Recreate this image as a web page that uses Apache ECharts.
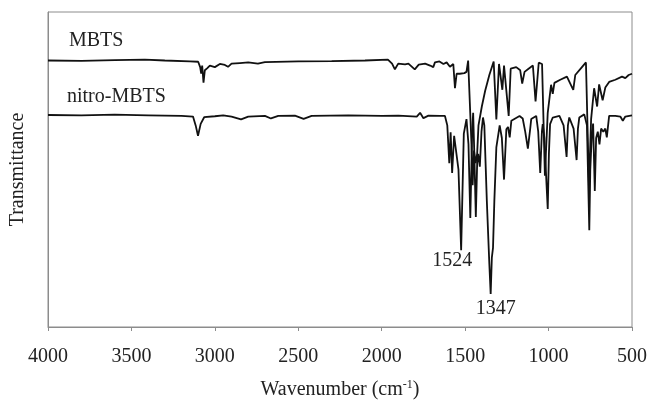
<!DOCTYPE html>
<html>
<head>
<meta charset="utf-8">
<script src="https://cdn.jsdelivr.net/npm/echarts@6/dist/echarts.min.js"></script>
<style>
  html, body { margin: 0; padding: 0; background: #fff; }
  #chart { width: 650px; height: 405px; }
</style>
</head>
<body>
<div id="chart"></div>
<script>
// wavenumber (cm-1) / transmittance (arbitrary, offset) pairs
var mbtsWn = [4000, 3800, 3600, 3420, 3300, 3150, 3100, 3088, 3082, 3076, 3068, 3060, 3045, 3030, 3000, 2970, 2940, 2921, 2900, 2850, 2800, 2742, 2700, 2500, 2300, 2100, 1963, 1938, 1921, 1901, 1860, 1840, 1802, 1778, 1740, 1710, 1691, 1681, 1654, 1630, 1611, 1591, 1571, 1561, 1551, 1532, 1505, 1492, 1482, 1474, 1462, 1455, 1447, 1437, 1428, 1420, 1400, 1380, 1355, 1329, 1313, 1297, 1277, 1267, 1239, 1227, 1194, 1170, 1158, 1144, 1120, 1094, 1078, 1059, 1039, 1022, 1005, 985, 975, 965, 930, 890, 852, 840, 800, 776, 758, 745, 727, 709, 697, 687, 676, 660, 637, 600, 560, 540, 520, 500];
var mbtsT = [84.6, 84.5, 84.7, 84.9, 84.6, 84.3, 84.2, 82.5, 80.4, 83.0, 77.6, 81.5, 82.2, 83.0, 82.5, 83.5, 83.2, 82.6, 83.6, 83.8, 84.0, 83.6, 84.1, 84.3, 84.4, 84.6, 84.9, 83.6, 81.8, 83.6, 83.4, 83.6, 81.8, 83.3, 83.6, 83.0, 82.5, 84.0, 84.3, 83.5, 84.0, 82.6, 83.5, 75.8, 80.4, 80.4, 80.6, 81.0, 84.6, 84.5, 58, 45, 56, 52, 55, 64, 70, 75, 80, 84.3, 65.9, 83.5, 75.3, 83.0, 67.0, 82.0, 82.5, 81.5, 77.3, 81.0, 82.0, 83.0, 71.6, 83.9, 83.5, 48, 68, 76.9, 74, 77.5, 78.5, 79.5, 75.3, 80, 82.5, 84.0, 45, 66, 75.8, 70.0, 77, 76.4, 72, 76, 77.8, 78.5, 79.5, 79.0, 80.0, 80.4];

var nitroWn = [4000, 3800, 3600, 3400, 3200, 3131, 3115, 3101, 3085, 3064, 3000, 2950, 2900, 2843, 2800, 2700, 2664, 2620, 2520, 2468, 2420, 2200, 2000, 1900, 1790, 1770, 1750, 1720, 1650, 1621, 1607, 1595, 1587, 1578, 1566, 1555, 1540, 1524, 1508, 1492, 1480, 1469, 1458, 1452, 1445, 1436, 1428, 1422, 1412, 1402, 1393, 1385, 1370, 1355, 1347, 1340, 1333, 1325, 1313, 1293, 1280, 1267, 1253, 1243, 1233, 1223, 1174, 1155, 1140, 1124, 1110, 1104, 1074, 1062, 1050, 1040, 1035, 1025, 1012, 1005, 998, 991, 975, 935, 910, 892, 884, 876, 850, 832, 824, 816, 786, 770, 762, 756, 750, 740, 733, 723, 715, 705, 695, 685, 672, 660, 651, 637, 600, 570, 555, 548, 540, 500];
var nitroT = [67.3, 67.2, 67.4, 67.2, 67.0, 66.8, 64, 60.7, 64.5, 66.6, 66.9, 67.2, 66.8, 65.9, 66.8, 67.0, 66.2, 67.0, 67.1, 66.1, 67.0, 67.2, 67.0, 67.1, 66.8, 68.0, 66.3, 67.1, 67.0, 67.0, 64.0, 52.0, 61.8, 48.9, 60.7, 61.2, 50, 24.4, 61.4, 66.0, 58, 34.6, 62, 68, 55, 34.9, 52, 55, 50.9, 62, 66.5, 64, 40, 20, 10.5, 22, 25.1, 40, 57, 64.0, 60, 46.8, 62.8, 63.5, 60.2, 65.5, 67.0, 66.2, 62, 56.6, 63, 66.0, 67.0, 62, 48.9, 62, 64.4, 60, 45, 37.5, 55, 64.4, 66.5, 67.0, 64, 54.0, 64, 66.5, 63, 53.0, 63, 66.5, 67.5, 64, 45, 30.7, 50, 62, 64.6, 43.2, 60, 62, 58, 63, 62, 63, 60.2, 67.0, 67.0, 66.8, 65.5, 65.8, 66.8, 67.2];

var peakWn = [1524, 1347];
var xTicks = [4000, 3500, 3000, 2500, 2000, 1500, 1000, 500];

function pairs(xs, ys) {
  return xs.map(function (x, i) { return [x, ys[i]]; });
}
function valueAt(wn) {
  return nitroT[nitroWn.indexOf(wn)];
}

var FONT = '"Liberation Serif", "Times New Roman", serif';
var AXIS_GREY = '#8c8c8c';

var chart = echarts.init(document.getElementById('chart'), null, { renderer: 'canvas' });

var option = {
  backgroundColor: '#fff',
  animation: false,
  grid: {
    left: 46, right: 17, top: 12, bottom: 71,
    show: true, borderColor: AXIS_GREY, borderWidth: 1
  },
  xAxis: {
    type: 'value',
    inverse: true,
    min: 500, max: 4000, interval: 500,
    name: '{a|Wavenumber (cm}{s|-1}{a|)}',
    nameLocation: 'middle',
    nameGap: 52,
    nameTextStyle: {
      rich: {
        a: { fontFamily: FONT, fontSize: 20, color: '#222' },
        s: { fontFamily: FONT, fontSize: 12, color: '#222', padding: [0, 0, 10, 0] }
      }
    },
    axisLine: { lineStyle: { color: AXIS_GREY, width: 1 } },
    axisTick: { show: true, length: 4, lineStyle: { color: AXIS_GREY } },
    axisLabel: {
      margin: 20, fontFamily: FONT, fontSize: 20, color: '#222',
      formatter: function (v) { return xTicks.indexOf(v) >= 0 ? String(v) : ''; }
    },
    splitLine: { show: false }
  },
  yAxis: {
    type: 'value',
    min: 0, max: 100,
    name: 'Transmittance',
    nameLocation: 'middle',
    nameRotate: 90,
    nameGap: 20,
    nameTextStyle: { fontFamily: FONT, fontSize: 20, color: '#222' },
    axisLine: { show: true, lineStyle: { color: AXIS_GREY, width: 1 } },
    axisTick: { show: false },
    axisLabel: { show: false },
    splitLine: { show: false }
  },
  graphic: [
    { type: 'text', left: 69, top: 31, style: { text: 'MBTS', font: '20px ' + FONT, fill: '#222' } },
    { type: 'text', left: 67, top: 87, style: { text: 'nitro-MBTS', font: '20px ' + FONT, fill: '#222' } }
  ],
  series: [
    {
      name: 'MBTS',
      type: 'line',
      data: pairs(mbtsWn, mbtsT),
      showSymbol: false,
      lineStyle: { color: '#111', width: 1.8 },
      z: 3
    },
    {
      name: 'nitro-MBTS',
      type: 'line',
      data: pairs(nitroWn, nitroT),
      showSymbol: false,
      lineStyle: { color: '#111', width: 1.8 },
      z: 2,
      markPoint: {
        symbol: 'circle',
        symbolSize: 0,
        label: {
          show: true, position: 'inside',
          fontFamily: FONT, fontSize: 20, color: '#222',
          formatter: function (p) { return p.name; }
        },
        data: [
          { name: String(peakWn[0]), coord: [peakWn[0], valueAt(peakWn[0])], label: { offset: [-9, 11] } },
          { name: String(peakWn[1]), coord: [peakWn[1], valueAt(peakWn[1])], label: { offset: [5, 15] } }
        ]
      }
    }
  ]
};

chart.setOption(option);
window.addEventListener('resize', function () { chart.resize(); });
</script>
</body>
</html>
